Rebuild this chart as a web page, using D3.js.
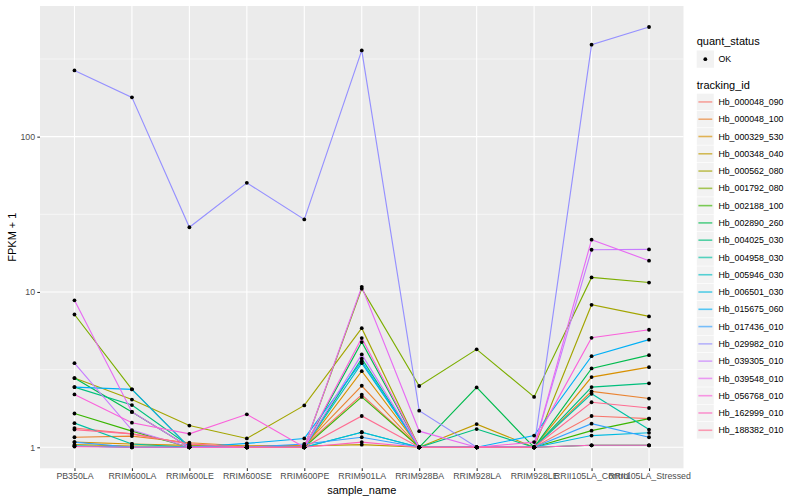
<!DOCTYPE html>
<html>
<head>
<meta charset="utf-8">
<script src="https://cdn.jsdelivr.net/npm/d3@7"></script>
<style>
  body { margin: 0; background: #fff; }
  svg { display: block; font-family: "Liberation Sans", Arial, Helvetica, sans-serif; }
</style>
</head>
<body>
<svg id="chart" width="800" height="500"></svg>
<script>
// ---- data ----
const samples = ["PB350LA","RRIM600LA","RRIM600LE","RRIM600SE","RRIM600PE","RRIM901LA","RRIM928BA","RRIM928LA","RRIM928LE","RRII105LA_Control","RRII105LA_Stressed"];
const trackingIds = ["Hb_000048_090","Hb_000048_100","Hb_000329_530","Hb_000348_040","Hb_000562_080","Hb_001792_080","Hb_002188_100","Hb_002890_260","Hb_004025_030","Hb_004958_030","Hb_005946_030","Hb_006501_030","Hb_015675_060","Hb_017436_010","Hb_029982_010","Hb_039305_010","Hb_039548_010","Hb_056768_010","Hb_162999_010","Hb_188382_010"];
const seriesColors = ["#F8766D","#EA8331","#D89000","#C09B00","#A3A500","#7CAE00","#39B600","#00BB4E","#00BF7D","#00C1A3","#00BFC4","#00BAE0","#00B0F6","#35A2FF","#9590FF","#C77CFF","#E76BF3","#FA62DB","#FF62BC","#FF6C91"];
// FPKM + 1 values, one array per tracking id, in sample order
const v_000048_090 = [1.33,1.22,1.05,1.00,1.02,2.18,1.00,1.00,1.00,1.59,1.53];
const v_000048_100 = [1.16,1.18,1.07,1.02,1.03,2.49,1.00,1.00,1.00,2.29,2.06];
const v_000329_530 = [1.08,1.05,1.03,1.00,1.00,3.09,1.00,1.00,1.00,2.83,3.28];
const v_000348_040 = [1.04,1.02,1.02,1.02,1.02,1.04,1.00,1.41,1.00,1.03,1.03];
const v_000562_080 = [2.79,2.03,1.38,1.14,1.86,5.85,1.00,1.00,1.00,8.27,6.96];
const v_001792_080 = [7.16,2.36,1.00,1.00,1.00,10.5,2.48,4.27,2.11,12.4,11.5];
const v_002188_100 = [1.65,1.27,1.00,1.00,1.00,2.11,1.00,1.00,1.00,1.28,1.53];
const v_002890_260 = [2.79,1.69,1.00,1.00,1.00,4.76,1.00,2.43,1.00,3.22,3.92];
const v_004025_030 = [2.44,1.87,1.02,1.00,1.00,3.72,1.00,1.31,1.00,2.44,2.58];
const v_004958_030 = [1.43,1.05,1.00,1.00,1.00,1.25,1.00,1.00,1.00,2.21,1.30];
const v_005946_030 = [1.02,1.00,1.00,1.00,1.00,3.48,1.00,1.00,1.00,1.03,1.03];
const v_006501_030 = [1.02,1.00,1.00,1.00,1.00,1.25,1.00,1.00,1.00,1.19,1.24];
const v_015675_060 = [2.44,2.36,1.00,1.06,1.14,3.57,1.00,1.00,1.19,3.86,4.93];
const v_017436_010 = [1.08,1.00,1.00,1.00,1.05,1.16,1.00,1.00,1.00,1.42,1.16];
const v_029982_010 = [267,179,26.1,50.4,29.3,359,1.72,1.00,1.00,391,508];
const v_039305_010 = [3.48,1.29,1.00,1.00,1.00,3.96,1.00,1.00,1.00,18.7,18.8];
const v_039548_010 = [8.84,1.69,1.00,1.00,1.00,10.8,1.27,1.00,1.00,21.7,15.9];
const v_056768_010 = [2.19,1.44,1.22,1.63,1.00,5.05,1.00,1.00,1.08,5.07,5.71];
const v_162999_010 = [1.01,1.00,1.00,1.00,1.00,1.08,1.00,1.00,1.00,1.03,1.03];
const v_188382_010 = [1.30,1.22,1.05,1.00,1.00,1.59,1.00,1.00,1.00,1.95,1.79];
const seriesValues = [v_000048_090,v_000048_100,v_000329_530,v_000348_040,v_000562_080,v_001792_080,v_002188_100,v_002890_260,v_004025_030,v_004958_030,v_005946_030,v_006501_030,v_015675_060,v_017436_010,v_029982_010,v_039305_010,v_039548_010,v_056768_010,v_162999_010,v_188382_010];
const yTicks = [1, 10, 100];
const yMinor = [Math.sqrt(10), Math.sqrt(1000), Math.sqrt(100000)];

// ---- layout ----
const svg = d3.select("#chart");
const P = {left: 40, right: 683.5, top: 6, bottom: 468.3};

const x = d3.scalePoint().domain(samples).range([P.left, P.right]).padding(0.6);

const all = seriesValues.flat();
const lo = Math.log10(d3.min(all)), hi = Math.log10(d3.max(all));
const ex = (hi - lo) * 0.05;
const y = d3.scaleLog().domain([Math.pow(10, lo - ex), Math.pow(10, hi + ex)]).range([P.bottom, P.top]);

// panel
svg.append("rect").attr("x", P.left).attr("y", P.top)
  .attr("width", P.right - P.left).attr("height", P.bottom - P.top).attr("fill", "#EBEBEB");

const grid = svg.append("g");
yMinor.forEach(t => grid.append("line").attr("x1", P.left).attr("x2", P.right)
  .attr("y1", y(t)).attr("y2", y(t)).attr("stroke", "#fff").attr("stroke-width", 0.55));
yTicks.forEach(t => grid.append("line").attr("x1", P.left).attr("x2", P.right)
  .attr("y1", y(t)).attr("y2", y(t)).attr("stroke", "#fff").attr("stroke-width", 1.1));
samples.forEach(s => grid.append("line").attr("x1", x(s)).attr("x2", x(s))
  .attr("y1", P.top).attr("y2", P.bottom).attr("stroke", "#fff").attr("stroke-width", 1.1));

// lines
const line = d3.line().x((d, i) => x(samples[i])).y(d => y(d));
const lg = svg.append("g");
seriesValues.forEach((vals, k) => {
  lg.append("path").attr("d", line(vals)).attr("fill", "none")
    .attr("stroke", seriesColors[k]).attr("stroke-width", 1.15);
});
// points
const pg = svg.append("g");
seriesValues.forEach(vals => {
  vals.forEach((v, i) => pg.append("circle").attr("cx", x(samples[i])).attr("cy", y(v))
    .attr("r", 1.9).attr("fill", "#000"));
});

// axes
const yAxis = d3.axisLeft(y).tickValues(yTicks).tickFormat(d3.format("d")).tickSize(2.7).tickPadding(2.2);
const ya = svg.append("g").attr("transform", `translate(${P.left},0)`).call(yAxis);
const xAxis = d3.axisBottom(x).tickSize(2.7).tickPadding(2.2);
const xa = svg.append("g").attr("transform", `translate(0,${P.bottom})`).call(xAxis);
[ya, xa].forEach(a => {
  a.select(".domain").remove();
  a.selectAll(".tick line").attr("stroke", "#333333").attr("stroke-width", 1.07);
  a.selectAll(".tick text").attr("fill", "#4D4D4D").style("font-size", "8.8px")
    .style("font-family", "'Liberation Sans', Arial, sans-serif");
});

svg.append("text").attr("x", (P.left + P.right) / 2).attr("y", 494)
  .attr("text-anchor", "middle").style("font-size", "11px").text("sample_name");
svg.append("text").attr("transform", `translate(15.5,${(P.top + P.bottom) / 2}) rotate(-90)`)
  .attr("text-anchor", "middle").style("font-size", "11px").text("FPKM + 1");

// legend
const L = {x: 696.7, key: 17.28};
const leg = svg.append("g");
leg.append("text").attr("x", L.x).attr("y", 44.5).style("font-size", "11px").text("quant_status");
leg.append("rect").attr("x", L.x).attr("y", 50.5).attr("width", L.key).attr("height", L.key).attr("fill", "#F2F2F2");
leg.append("circle").attr("cx", L.x + L.key / 2).attr("cy", 50.5 + L.key / 2).attr("r", 1.9).attr("fill", "#000");
leg.append("text").attr("x", L.x + L.key + 4.4).attr("y", 50.5 + L.key / 2 + 3.1)
  .style("font-size", "8.8px").text("OK");

leg.append("text").attr("x", L.x).attr("y", 89).style("font-size", "11px").text("tracking_id");
trackingIds.forEach((id, k) => {
  const ky = 93.3 + k * L.key;
  leg.append("rect").attr("x", L.x).attr("y", ky).attr("width", L.key).attr("height", L.key)
    .attr("fill", "#F2F2F2").attr("stroke", "#fff").attr("stroke-width", 0.5);
  leg.append("line").attr("x1", L.x + 1.7).attr("x2", L.x + L.key - 1.7)
    .attr("y1", ky + L.key / 2).attr("y2", ky + L.key / 2)
    .attr("stroke", seriesColors[k]).attr("stroke-width", 1.6).attr("opacity", 0.65);
  leg.append("text").attr("x", L.x + L.key + 4.4).attr("y", ky + L.key / 2 + 3.1)
    .style("font-size", "8.8px").text(id);
});
</script>
</body>
</html>
